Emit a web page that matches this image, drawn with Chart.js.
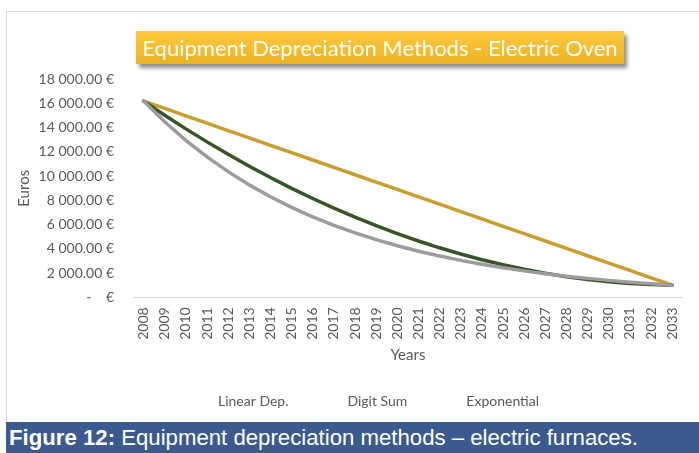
<!DOCTYPE html>
<html>
<head>
<meta charset="utf-8">
<script src="https://cdn.jsdelivr.net/npm/chart.js@4.4.1/dist/chart.umd.min.js"></script>
<style>
  html, body { margin: 0; padding: 0; background: #fff; width: 699px; height: 453px; overflow: hidden; }
  #frame { position: absolute; left: 6px; top: 11px; width: 720px; height: 440px; border: 1px solid #d9d9d9; box-sizing: border-box; }
  #wrap { position: absolute; left: 6px; top: 11px; width: 693px; height: 411px; }
  #title { position: absolute; left: 136px; top: 31px; width: 488px; height: 33px; line-height: 33px;
    background: linear-gradient(#ffc940, #ebb321); color: #fff; font-family: Lato, sans-serif; font-size: 22px;
    text-align: center; box-shadow: 3px 4px 4px rgba(0,0,0,0.45); white-space: nowrap; }
  #caption { position: absolute; left: 6px; top: 422px; width: 693px; height: 31px; background: #3b5a8e;
    color: #fff; font-family: "Liberation Sans", Arial, sans-serif; font-size: 22.2px; line-height: 31px; padding-left: 3px; box-sizing: border-box; white-space: nowrap; }
  #caption b { font-weight: bold; }
</style>
</head>
<body>
<div id="frame"></div>
<div id="wrap"><canvas id="c"></canvas></div>
<div id="title">Equipment Depreciation Methods - Electric Oven</div>
<div id="caption"><b>Figure 12:</b> Equipment depreciation methods – electric furnaces.</div>
<script>
const years = ["2008","2009","2010","2011","2012","2013","2014","2015","2016","2017","2018","2019","2020",
  "2021","2022","2023","2024","2025","2026","2027","2028","2029","2030","2031","2032","2033"];
const linearDep = [16200,15592,14984,14376,13768,13160,12552,11944,11336,10728,10120,9512,8904,8296,7688,7080,
  6472,5864,5256,4648,4040,3432,2824,2216,1608,1000];
const digitSum = [16200,15031,13908,12833,11804,10822,9886,8998,8156,7361,6612,5911,5256,4648,4087,3572,
  3105,2684,2310,1982,1702,1468,1281,1140,1047,1000];
const exponential = [16200,14493,12965,11599,10376,9282,8304,7429,6646,5945,5319,4758,4257,3808,3407,3047,
  2726,2439,2182,1952,1746,1562,1397,1250,1118,1000];
const seriesNames = ["Linear Dep.","Digit Sum","Exponential"];
const yMax = 18000, yStep = 2000;

function euro(v) {
  if (v === 0) return "-    €";
  const s = v.toFixed(2);
  const [i, d] = s.split(".");
  return i.replace(/\B(?=(\d{3})+(?!\d))/g, " ") + "." + d + " €";
}

const tickFont = { family: "Lato, sans-serif", size: 14 };
const titleFont = { family: "Lato, sans-serif", size: 15 };
const grey = "#595959";

new Chart(document.getElementById("c"), {
  type: "line",
  data: {
    labels: years,
    datasets: [
      { label: seriesNames[0], data: linearDep, borderColor: "#c99d2e", order: 2 },
      { label: seriesNames[1], data: digitSum, borderColor: "#375623", order: 1 },
      { label: seriesNames[2], data: exponential, borderColor: "#9c9c9e", order: 0 }
    ].map(d => Object.assign(d, { borderWidth: 3.5, pointRadius: 0, fill: false, tension: 0, borderCapStyle: "round" }))
  },
  options: {
    responsive: true,
    maintainAspectRatio: false,
    animation: false,
    layout: { padding: { top: 68.3, left: 5, right: 0, bottom: 4 } },
    plugins: {
      tooltip: { enabled: false },
      legend: {
        position: "bottom",
        labels: {
          font: tickFont, color: grey, boxWidth: 40, padding: 12,
          generateLabels: (chart) => chart.data.datasets.map((ds, i) => ({
            text: ds.label, fillStyle: "rgba(0,0,0,0)", strokeStyle: "rgba(0,0,0,0)", lineWidth: 0,
            fontColor: grey, datasetIndex: i, hidden: false
          }))
        }
      }
    },
    scales: {
      x: {
        offset: true,
        grid: { display: false, drawTicks: false },
        border: { display: true, color: "#d9d9d9", width: 1 },
        ticks: { font: tickFont, color: grey, minRotation: 90, maxRotation: 90, padding: 10, autoSkip: false },
        title: { display: true, text: "Years", font: titleFont, color: grey, padding: { top: 4, bottom: 18 } },
        afterFit: (s) => { s.height = 84.7; }
      },
      y: {
        min: 0, max: yMax,
        grid: { display: false, drawTicks: false },
        border: { display: false },
        ticks: { stepSize: yStep, font: tickFont, color: grey, padding: 19, callback: (v) => euro(v) },
        title: { display: true, text: "Euros", font: titleFont, color: grey, padding: { top: 4, bottom: 4 } },
        afterFit: (s) => { s.width = 122; }
      }
    }
  }
});
</script>
</body>
</html>
